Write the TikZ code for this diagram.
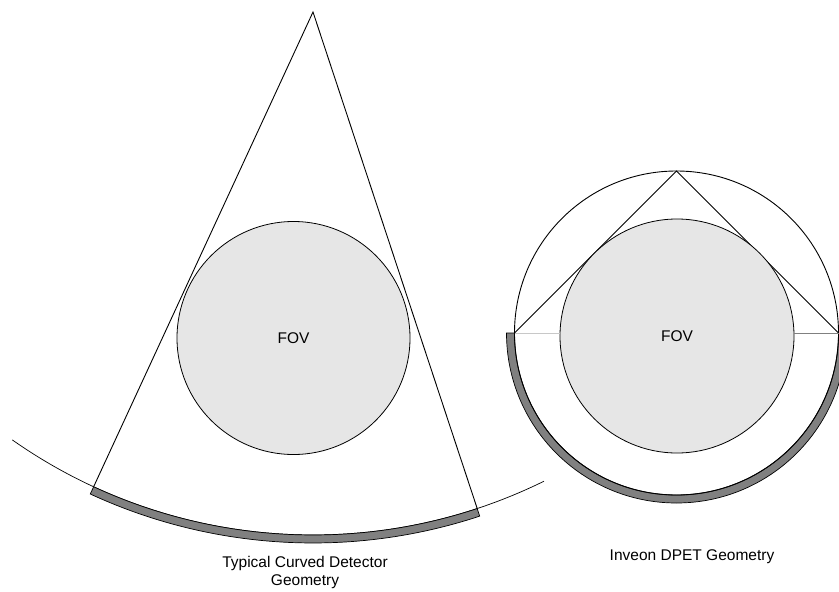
\documentclass[tikz,border=0pt]{standalone}
\usepackage{fontspec}
\setmainfont{Liberation Sans}
\usetikzlibrary{calc}
\definecolor{fovgray}{HTML}{E6E6E6}
\definecolor{detgray}{HTML}{808080}
\definecolor{lightrule}{HTML}{C8C8C8}

\begin{document}
\begin{tikzpicture}[x=1pt, y=-1pt, font=\fontsize{15.5}{18.5}\selectfont,
    edge/.style={line width=0.9pt},
    thinline/.style={line width=0.7pt},
    detector/.style={fill=detgray, draw=black, line width=0.7pt},
    fov/.style={circle, fill=fovgray, draw=black, line width=0.8pt, inner sep=0pt},
    caption/.style={anchor=north, inner sep=0pt, align=center}]
    \useasboundingbox (0,0) rectangle (839,592);
    \clip (0,0) rectangle (839,592);
    % typical curved detector
    \coordinate (apex) at (313,12);
    \coordinate (lfoot) at ($(apex)+(114.8:523)$);
    \coordinate (rfoot) at ($(apex)+(71.7:523)$);
    \draw[thinline] ($(apex)+(125.1:523)$) arc[start angle=125.1, end angle=63.8, radius=523];
    \filldraw[detector] (lfoot) arc[start angle=114.8, end angle=71.7, radius=523]
      -- ($(apex)+(71.7:531)$) arc[start angle=71.7, end angle=114.8, radius=531] -- cycle;
    \draw[edge] (lfoot) -- (apex) -- (rfoot);
    \node[fov, minimum size=233pt] (fovl) at (293.5,338) {FOV};
    \node[caption] (capl) at (305,556) {Typical Curved Detector\\Geometry};
    % inveon dpet
    \coordinate (rc) at (676.5,333);
    \coordinate (top) at ($(rc)+(270:162)$);
    \coordinate (lv) at ($(rc)+(180:162)$);
    \coordinate (rv) at ($(rc)+(0:162)$);
    \filldraw[detector] (lv) arc[start angle=180, end angle=0, radius=162]
      -- ($(rc)+(0:170)$) arc[start angle=0, end angle=180, radius=170] -- cycle;
    \draw[edge] (rc) circle[radius=162];
    \draw[edge] (lv) -- (top) -- (rv);
    \node[fov, minimum size=234pt] (fovr) at (677,336) {FOV};
    \draw[lightrule, line width=0.9pt] (lv) -- (lv -| fovr.west);
    \draw[detgray, line width=0.9pt] (rv) -- (rv -| fovr.east);
    \node[caption] (capr) at (692,549.5) {Inveon DPET Geometry};
\end{tikzpicture}
\end{document}
